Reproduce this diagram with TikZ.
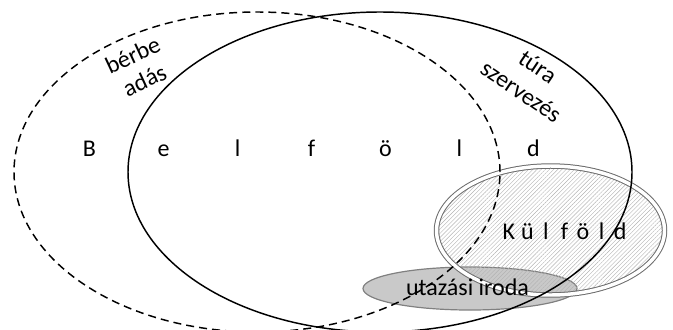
\documentclass[tikz,border=0pt]{standalone}
\usepackage{fontspec}
\setmainfont{Carlito}
\usetikzlibrary{shapes.geometric,patterns.meta}
\tikzset{
  ell/.style={ellipse, inner sep=0pt, outer sep=0pt},
  txt/.style={font=\fontsize{18}{21}\selectfont, inner sep=0pt, align=center},
}
\newcommand{\bfl}[1]{\makebox[55.5pt]{#1}}
\newcommand{\kfl}[1]{\makebox[13.9pt]{#1}}
\begin{document}
\begin{tikzpicture}[x=0.75pt,y=-0.75pt]
\useasboundingbox (0,0) rectangle (673,329);
% utazasi iroda ellipse (background)
\node[ell, fill=gray!42, draw=gray, line width=0.9pt,
      minimum width=214*0.75pt, minimum height=43*0.75pt] (iroda) at (470,288.5) {};
% Kulfold double ellipse with hatching
\node[ell, pattern={Lines[angle=45,distance=2.2pt,line width=0.3pt]}, pattern color=gray!60,
      draw=gray!85!black, line width=0.75pt, double=white, double distance=2.6pt,
      minimum width=228*0.75pt, minimum height=129*0.75pt] (kulf) at (550.5,230.5) {};
% big ellipses
\node[ell, draw=black, line width=1.1pt, dash pattern=on 6pt off 3.8pt,
      minimum width=486*0.75pt, minimum height=320*0.75pt] (berbe) at (257,172) {};
\node[ell, draw=black, line width=1.1pt,
      minimum width=504*0.75pt, minimum height=320*0.75pt] (tura) at (380,172) {};
% texts
\node[txt, anchor=base] (belf) at (311.5,156)
  {\bfl{B}\bfl{e}\bfl{l}\bfl{f}\bfl{ö}\bfl{l}\bfl{d}};
\node[txt, anchor=base] (kulft) at (564.5,239)
  {\kfl{K}\kfl{ü}\kfl{l}\kfl{f}\kfl{ö}\kfl{l}\kfl{d}};
\node[txt, anchor=base] (iradat) at (467.5,295) {utazási iroda};
\node[txt, rotate=25] (berbet) at (138.5,67.5) {bérbe\\adás};
\node[txt, rotate=-34, font=\fontsize{18}{22.5}\selectfont] (turat) at (529.5,79) {túra\\szervezés};
\end{tikzpicture}
\end{document}
